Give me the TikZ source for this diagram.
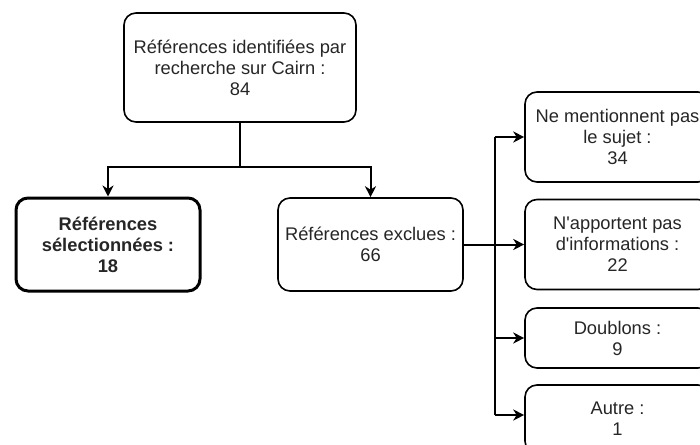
\documentclass[tikz,border=0pt]{standalone}
\usepackage{fontspec}
\newfontfamily\lsans{Liberation Sans}
\usetikzlibrary{arrows.meta}
\tikzset{
  boxstyle/.style={draw=black, line width=1.6pt, rounded corners=12pt, fill=white, align=center,
    inner sep=0pt, text=black!85, font=\lsans\fontsize{18.3}{21}\selectfont},
  boldbox/.style={boxstyle, line width=3pt, font=\lsans\fontsize{18.3}{21}\selectfont\bfseries},
  conn/.style={draw=black, line width=2pt},
  arr/.style={conn, -{Stealth[length=11pt,width=11pt,inset=3.5pt]}}
}
\begin{document}
\begin{tikzpicture}[x=1pt,y=-1pt]
\useasboundingbox (0,0) rectangle (700,444);
\clip (0,0) rectangle (700,444);
\node[boxstyle, minimum width=232pt, minimum height=109pt] (top) at (240,67.5)
  {Références identifiées par\\recherche sur Cairn :\\84};
\node[boldbox, minimum width=184pt, minimum height=93pt] (sel) at (108,244.5)
  {Références\\sélectionnées :\\18};
\node[boxstyle, minimum width=185pt, minimum height=93pt] (excl) at (370.5,244.5)
  {Références exclues :\\66};
\node[boxstyle, minimum width=185pt, minimum height=90pt] (r1) at (617.5,137)
  {Ne mentionnent pas\\le sujet :\\34};
\node[boxstyle, minimum width=185pt, minimum height=90pt] (r2) at (617.5,244.5)
  {N'apportent pas\\d'informations :\\22};
\node[boxstyle, minimum width=185pt, minimum height=60pt] (r3) at (617.5,338)
  {Doublons :\\9};
\node[boxstyle, minimum width=185pt, minimum height=68pt] (r4) at (617.5,419)
  {Autre :\\1};
\coordinate (split) at (240,167);
\coordinate (jx) at (495,0);
\draw[conn] (top.south) -- (split);
\draw[arr] (split) -| (sel.north);
\draw[arr] (split) -| (excl.north);
\draw[arr] (excl.east) -- (r2.west);
\draw[conn] (jx |- r1.west) -- (jx |- 0,415);
\draw[arr] (jx |- r1.west) -- (r1.west);
\draw[arr] (jx |- r3.west) -- (r3.west);
\draw[arr] (jx |- 0,415) -- (r4.west |- 0,415);
\end{tikzpicture}
\end{document}
